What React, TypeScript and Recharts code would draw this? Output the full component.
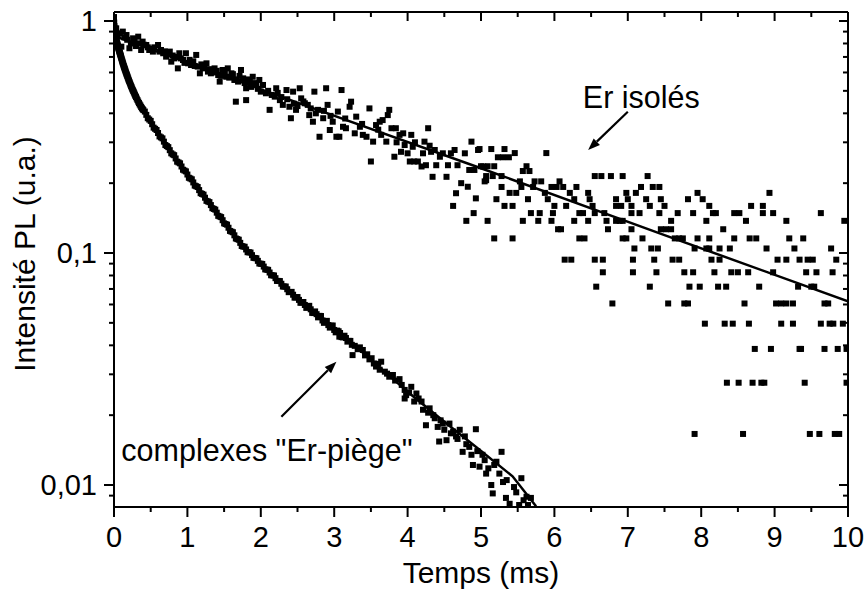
import React from 'react';
import { ComposedChart, Scatter, Line, XAxis, YAxis, ReferenceLine, Label } from 'recharts';

const FONT = '"Liberation Sans", Arial, Helvetica, sans-serif';

// ---------- axes ----------
const xDomain: [number, number] = [0, 10];
const yDomain: [number, number] = [0.00804, 1.0934];
const xTicks = [0, 0.5, 1, 1.5, 2, 2.5, 3, 3.5, 4, 4.5, 5, 5.5, 6, 6.5, 7, 7.5, 8, 8.5, 9, 9.5, 10];
const yTicks = [0.009, 0.01, 0.02, 0.03, 0.04, 0.05, 0.06, 0.07, 0.08, 0.09, 0.1, 0.2, 0.3, 0.4, 0.5, 0.6, 0.7, 0.8, 0.9, 1];
const yMajorLabels: Record<string, string> = { '0.01': '0,01', '0.1': '0,1', '1': '1' };
const xTitle = 'Temps (ms)';
const yTitle = 'Intensité PL (u.a.)';

// ---------- "Er isolés" data (t in ms, intensity) ----------
const isolatedEarly: [number, number][] = [
  [0.01, 0.9], [0.03, 0.93], [0.05, 0.87], [0.08, 0.885], [0.1, 0.775], [0.12, 0.9], [0.14, 0.85], [0.17, 0.87],
  [0.18, 0.83], [0.21, 0.763], [0.23, 0.8], [0.26, 0.842], [0.28, 0.82], [0.3, 0.78], [0.33, 0.856], [0.35, 0.801],
  [0.37, 0.75], [0.39, 0.815], [0.41, 0.79], [0.44, 0.788], [0.46, 0.77], [0.48, 0.75], [0.51, 0.76], [0.53, 0.738],
  [0.55, 0.77], [0.6, 0.788], [0.62, 0.738], [0.64, 0.75], [0.67, 0.726], [0.69, 0.74], [0.71, 0.702], [0.73, 0.72],
  [0.76, 0.738], [0.78, 0.668], [0.8, 0.71], [0.82, 0.69], [0.85, 0.7], [0.87, 0.625], [0.89, 0.726], [0.91, 0.69],
  [0.94, 0.679], [0.96, 0.66], [0.98, 0.726], [1.01, 0.657], [1.03, 0.68], [1.05, 0.646], [1.08, 0.67], [1.1, 0.64],
  [1.12, 0.714], [1.14, 0.636], [1.17, 0.595], [1.19, 0.65], [1.21, 0.625], [1.23, 0.63], [1.26, 0.657], [1.28, 0.605],
  [1.3, 0.62], [1.32, 0.595], [1.35, 0.6], [1.37, 0.625], [1.4, 0.61], [1.42, 0.585], [1.44, 0.548], [1.46, 0.58],
  [1.48, 0.615], [1.51, 0.6], [1.53, 0.575], [1.55, 0.625], [1.57, 0.57], [1.6, 0.595], [1.62, 0.59], [1.64, 0.557],
  [1.66, 0.449], [1.67, 0.56], [1.69, 0.548], [1.71, 0.58], [1.73, 0.615], [1.76, 0.566], [1.78, 0.54], [1.8, 0.513],
  [1.8, 0.456], [1.82, 0.56], [1.85, 0.548], [1.87, 0.52], [1.89, 0.575], [1.92, 0.54], [1.94, 0.53], [1.96, 0.51],
  [1.98, 0.557], [2.0, 0.496], [2.03, 0.53], [2.07, 0.488], [2.1, 0.5], [2.12, 0.414], [2.15, 0.48], [2.19, 0.472],
  [2.21, 0.513], [2.23, 0.49], [2.26, 0.456], [2.28, 0.47], [2.3, 0.435], [2.35, 0.504], [2.36, 0.46], [2.39, 0.427],
  [2.41, 0.381], [2.44, 0.496], [2.45, 0.44], [2.48, 0.414], [2.5, 0.43], [2.53, 0.513], [2.55, 0.464], [2.58, 0.45],
  [2.6, 0.442], [2.64, 0.435], [2.66, 0.393], [2.68, 0.42], [2.71, 0.368], [2.73, 0.496], [2.75, 0.4], [2.78, 0.414],
  [2.8, 0.317], [2.85, 0.381], [2.86, 0.41], [2.89, 0.513], [2.91, 0.435], [2.94, 0.339], [2.95, 0.39], [2.98, 0.368],
  [3.03, 0.317], [3.05, 0.407], [3.07, 0.317], [3.1, 0.504], [3.12, 0.35], [3.15, 0.38], [3.16, 0.345], [3.21, 0.427],
  [3.23, 0.449], [3.28, 0.328], [3.3, 0.387], [3.35, 0.35], [3.38, 0.36], [3.39, 0.323], [3.44, 0.317], [3.48, 0.42],
  [3.5, 0.248], [3.53, 0.302], [3.57, 0.356], [3.6, 0.34], [3.62, 0.368], [3.64, 0.323], [3.66, 0.374], [3.71, 0.302],
  [3.73, 0.393], [3.75, 0.414], [3.78, 0.345], [3.82, 0.26], [3.84, 0.345], [3.85, 0.3], [3.89, 0.323], [3.91, 0.273],
  [3.94, 0.328], [3.96, 0.292], [4.0, 0.269], [4.03, 0.248], [4.05, 0.323], [4.07, 0.287], [4.09, 0.248], [4.1, 0.3],
  [4.14, 0.248], [4.19, 0.236], [4.21, 0.269], [4.23, 0.302], [4.25, 0.239], [4.28, 0.345], [4.3, 0.29], [4.32, 0.273],
  [4.34, 0.213], [4.37, 0.278], [4.39, 0.239], [4.44, 0.26], [4.48, 0.269], [4.53, 0.213], [4.55, 0.239], [4.59, 0.269],
  [4.62, 0.1596], [4.64, 0.278], [4.66, 0.181], [4.68, 0.239], [4.73, 0.2], [4.78, 0.269], [4.8, 0.1376], [4.82, 0.193],
  [4.84, 0.228], [4.87, 0.302], [4.9, 0.1486], [4.91, 0.228], [4.93, 0.172], [4.96, 0.278], [5.03, 0.236], [5.07, 0.206],
];

// late part: photon-count levels and the times at which points sit on them
const isolatedLevels: { v: number; t: number[] }[] = [
  { v: 0.2806, t: [4.98, 5.14, 5.32] },
  { v: 0.2696, t: [5.46, 5.89] },
  { v: 0.2586, t: [5.23, 5.3, 5.38] },
  { v: 0.2366, t: [5.0, 5.09, 5.18, 5.62] },
  { v: 0.2256, t: [5.57, 5.66] },
  { v: 0.2146, t: [5.07, 5.16, 5.28, 6.55, 6.64, 6.77, 6.93, 7.27] },
  { v: 0.2036, t: [5.05, 5.53, 5.73, 5.82, 6.07] },
  { v: 0.1926, t: [5.28, 5.55, 5.71, 5.96, 6.03, 6.12, 6.3, 7.18, 7.34, 7.43] },
  { v: 0.1816, t: [5.39, 5.48, 5.87, 6.21, 6.46, 6.98, 7.11, 7.95, 8.93] },
  { v: 0.1706, t: [5.21, 5.64, 5.91, 6.27, 6.48, 6.84, 7.0, 7.25, 7.45, 7.82, 8.02] },
  { v: 0.1596, t: [5.32, 5.43, 6.0, 6.16, 6.52, 6.84, 6.91, 7.05, 7.3, 7.5, 8.11, 8.68, 8.84] },
  { v: 0.1486, t: [5.68, 5.8, 5.98, 6.34, 6.39, 6.55, 6.68, 7.05, 7.16, 7.43, 7.68, 7.89, 8.16, 8.2, 8.45, 8.52, 8.84, 8.98, 9.63] },
  { v: 0.1376, t: [5.09, 5.57, 5.78, 5.96, 6.27, 6.46, 6.71, 6.84, 6.89, 6.93, 7.59, 8.07, 8.61, 9.16, 9.95] },
  { v: 0.1266, t: [6.05, 6.09, 6.73, 7.05, 7.45, 7.52, 7.59, 8.3] },
  { v: 0.1156, t: [5.18, 5.43, 6.34, 6.41, 6.93, 6.98, 7.2, 7.64, 7.7, 7.75, 7.95, 8.11, 8.45, 8.66, 8.75, 9.2, 9.39] },
  { v: 0.1046, t: [7.09, 7.32, 7.41, 7.91, 8.07, 8.11, 8.25, 8.39, 8.89, 9.27, 9.77] },
  { v: 0.0936, t: [6.14, 6.23, 6.55, 6.66, 7.07, 7.36, 7.61, 7.7, 8.14, 8.25, 9.04, 9.16, 9.34, 9.45, 9.52, 9.84] },
  { v: 0.0826, t: [6.66, 7.07, 7.39, 7.77, 7.89, 8.18, 8.41, 8.5, 8.64, 8.98, 9.43, 9.57, 9.79] },
  { v: 0.0716, t: [6.57, 7.3, 7.84, 7.98, 8.23, 8.34, 8.79, 9.32, 9.5, 9.54] },
  { v: 0.0606, t: [6.79, 7.55, 7.77, 7.82, 8.59, 9.02, 9.09, 9.16, 9.25, 9.68, 9.73] },
  { v: 0.0496, t: [8.05, 8.32, 8.43, 8.65, 9.09, 9.25, 9.63, 9.75, 9.8, 9.93] },
  { v: 0.0386, t: [8.73, 8.95, 9.34, 9.36, 9.68, 9.86, 9.98] },
  { v: 0.0276, t: [8.35, 8.51, 8.7, 8.82, 8.86, 9.41, 9.98] },
  { v: 0.0166, t: [7.91, 8.57, 9.48, 9.61, 9.82, 9.88] },
];

const isolatedFit: [number, number][] = [[0, 0.862], [2.5, 0.445], [5, 0.232], [7.5, 0.1195], [10, 0.0619]];

// ---------- complexes "Er-piège" data ----------
const trapDense: [number, number][] = [
  [0, 1.04], [0.003, 0.985], [0.006, 0.95], [0.01, 0.915], [0.014, 0.89], [0.018, 0.873], [0.022, 0.858], [0.027, 0.843],
  [0.032, 0.829], [0.037, 0.816], [0.043, 0.802], [0.05, 0.786], [0.057, 0.771], [0.064, 0.757], [0.072, 0.742], [0.08, 0.728],
  [0.088, 0.714], [0.096, 0.7], [0.105, 0.684], [0.114, 0.669], [0.123, 0.655], [0.133, 0.64], [0.143, 0.626], [0.153, 0.613],
  [0.164, 0.599], [0.175, 0.586], [0.187, 0.572], [0.199, 0.558], [0.212, 0.545], [0.226, 0.531], [0.24, 0.518], [0.255, 0.505],
  [0.27, 0.493], [0.285, 0.481], [0.3, 0.47], [0.32, 0.456], [0.34, 0.443], [0.36, 0.432], [0.38, 0.421], [0.4, 0.413],
  [0.44, 0.394], [0.48, 0.376], [0.52, 0.359], [0.56, 0.343], [0.6, 0.329], [0.64, 0.315], [0.68, 0.302], [0.72, 0.289],
  [0.76, 0.2775], [0.8, 0.266], [0.84, 0.2556], [0.88, 0.2456], [0.92, 0.236], [0.96, 0.2267], [1.0, 0.2179], [1.04, 0.2095],
  [1.08, 0.2015], [1.12, 0.194], [1.16, 0.1867], [1.2, 0.1798], [1.24, 0.1731], [1.28, 0.1668], [1.32, 0.1609], [1.36, 0.1549],
  [1.4, 0.1492], [1.44, 0.1437], [1.48, 0.1385], [1.52, 0.1333], [1.56, 0.1285], [1.6, 0.1237], [1.64, 0.1192], [1.68, 0.1148],
  [1.72, 0.1106], [1.76, 0.1066], [1.8, 0.1036], [1.84, 0.1007], [1.88, 0.0979], [1.92, 0.0951], [1.96, 0.0925], [2.0, 0.0899],
  [2.04, 0.0874], [2.08, 0.0848], [2.12, 0.0824], [2.16, 0.0801], [2.2, 0.0779], [2.24, 0.0758], [2.28, 0.0737], [2.32, 0.0717],
  [2.36, 0.0698], [2.4, 0.0679], [2.44, 0.0661], [2.48, 0.0644], [2.52, 0.0628], [2.56, 0.0612], [2.6, 0.0597], [2.64, 0.0588],
  [2.68, 0.0572], [2.72, 0.0551], [2.76, 0.0545], [2.8, 0.0536], [2.84, 0.0512], [2.88, 0.0509], [2.92, 0.0489], [2.96, 0.0486],
  [3.0, 0.0466], [3.04, 0.0463], [3.07, 0.0436], [3.08, 0.0452], [3.12, 0.0433], [3.16, 0.043],
];
// second pass of points sitting between the ones above (slight scatter)
const trapDenseB: [number, number][] = [
  [0.008, 0.93], [0.02, 0.866], [0.03, 0.836], [0.04, 0.809], [0.046, 0.795], [0.053, 0.779], [0.06, 0.764], [0.068, 0.75],
  [0.076, 0.735], [0.084, 0.721], [0.092, 0.707], [0.1, 0.692], [0.11, 0.676], [0.118, 0.662], [0.128, 0.648], [0.138, 0.633],
  [0.148, 0.62], [0.158, 0.606], [0.17, 0.592], [0.181, 0.579], [0.193, 0.565], [0.205, 0.552], [0.219, 0.538], [0.233, 0.524],
  [0.247, 0.511], [0.262, 0.499], [0.277, 0.487], [0.292, 0.475], [0.31, 0.463], [0.33, 0.449], [0.35, 0.437], [0.37, 0.426],
  [0.39, 0.417], [0.42, 0.407], [0.46, 0.381], [0.5, 0.371], [0.54, 0.347], [0.58, 0.339], [0.62, 0.318], [0.66, 0.312],
  [0.7, 0.292], [0.74, 0.286], [0.78, 0.269], [0.82, 0.264], [0.86, 0.2475], [0.9, 0.2435], [0.94, 0.2285], [0.98, 0.2248],
  [1.02, 0.211], [1.06, 0.2078], [1.1, 0.1952], [1.14, 0.1925], [1.18, 0.181], [1.22, 0.1785], [1.26, 0.1678], [1.3, 0.1657],
  [1.34, 0.156], [1.38, 0.1538], [1.42, 0.1446], [1.46, 0.1428], [1.5, 0.1342], [1.54, 0.1325], [1.58, 0.1245], [1.62, 0.1229],
  [1.66, 0.1155], [1.7, 0.1141], [1.74, 0.1072], [1.78, 0.1064], [1.82, 0.1008], [1.86, 0.1005], [1.9, 0.0953], [1.94, 0.0949],
  [1.98, 0.0901], [2.02, 0.0897], [2.06, 0.085], [2.1, 0.0846], [2.14, 0.0802], [2.18, 0.08], [2.22, 0.0758], [2.26, 0.0757],
  [2.3, 0.0717], [2.34, 0.0717], [2.38, 0.0678], [2.42, 0.068], [2.46, 0.0642], [2.5, 0.0646], [2.54, 0.061], [2.58, 0.0615],
  [2.62, 0.058], [2.66, 0.0592], [2.7, 0.0552], [2.74, 0.056], [2.78, 0.0528], [2.82, 0.0535], [2.86, 0.05], [2.9, 0.051],
  [2.94, 0.0477], [2.98, 0.0487], [3.02, 0.0455], [3.06, 0.046], [3.1, 0.0434], [3.14, 0.044], [3.18, 0.0415], [3.22, 0.0418],
];
const trapTail: [number, number][] = [
  [3.2, 0.0418], [3.24, 0.0402], [3.25, 0.0363], [3.28, 0.0398], [3.32, 0.0385], [3.35, 0.0392], [3.39, 0.0382], [3.42, 0.0362],
  [3.45, 0.0366], [3.48, 0.0348], [3.51, 0.0352], [3.54, 0.0334], [3.57, 0.0324], [3.6, 0.0333], [3.62, 0.0314], [3.64, 0.034],
  [3.69, 0.0308], [3.72, 0.0302], [3.75, 0.0293], [3.8, 0.0298], [3.83, 0.0282], [3.89, 0.0286], [3.92, 0.027], [3.96, 0.0257],
  [3.96, 0.0236], [3.98, 0.0244], [4.02, 0.025], [4.05, 0.0265], [4.09, 0.0229], [4.12, 0.0248], [4.15, 0.0236], [4.19, 0.0229],
  [4.21, 0.0211], [4.25, 0.0181], [4.28, 0.0205], [4.3, 0.0214], [4.35, 0.02], [4.37, 0.0194], [4.41, 0.0178], [4.43, 0.0154],
  [4.45, 0.019], [4.48, 0.0184], [4.5, 0.0173], [4.53, 0.0156], [4.57, 0.0184], [4.59, 0.0167], [4.62, 0.017], [4.66, 0.0162],
  [4.68, 0.0158], [4.71, 0.0173], [4.75, 0.0139], [4.78, 0.0162], [4.8, 0.015], [4.84, 0.0146], [4.87, 0.0135], [4.89, 0.0122],
  [4.93, 0.0174], [4.95, 0.014], [4.98, 0.012], [5.02, 0.0135], [5.05, 0.0128], [5.07, 0.0112], [5.1, 0.0118], [5.14, 0.01],
  [5.16, 0.0092], [5.18, 0.0122], [5.21, 0.0126], [5.25, 0.0112], [5.28, 0.0139], [5.3, 0.0103], [5.34, 0.0088], [5.35, 0.0105],
  [5.39, 0.0083], [5.45, 0.0098], [5.48, 0.0093], [5.52, 0.0082], [5.55, 0.0107], [5.58, 0.0086], [5.62, 0.0089], [5.64, 0.0082],
  [5.68, 0.0088],
];
const trapFit: [number, number][] = [
  [0, 1.0], [0.01, 0.92], [0.03, 0.845], [0.06, 0.765], [0.1, 0.69], [0.15, 0.618], [0.21, 0.55], [0.3, 0.474], [0.4, 0.415],
  [0.52, 0.36], [0.62, 0.32], [0.76, 0.277], [0.85, 0.252], [1.0, 0.217], [1.15, 0.188], [1.3, 0.163], [1.5, 0.136],
  [1.75, 0.108], [2.0, 0.0895], [2.3, 0.0722], [2.57, 0.0607], [2.85, 0.0512], [3.12, 0.0436], [3.4, 0.037], [3.7, 0.0305],
  [4.07, 0.0242], [4.53, 0.0184], [4.98, 0.0142], [5.43, 0.0109], [5.75, 0.0081],
];

// annotation arrows [tail, head] in data coordinates
const isolatedArrow = [{ x: 7.0, y: 0.4066 }, { x: 6.46, y: 0.278 }];
const trapArrow = [{ x: 2.28, y: 0.0197 }, { x: 3.03, y: 0.034 }];
const isolatedLabel = 'Er isolés';
const trapLabel = 'complexes "Er-piège"';

// ---------- derived tables ----------
const toPts = (a: [number, number][]) => a.map(([x, y]) => ({ x, y }));
const isolatedPts = [
  ...toPts(isolatedEarly),
  ...isolatedLevels.flatMap((row) => row.t.map((x) => ({ x, y: row.v }))),
];
const trapPts = [...toPts(trapDense), ...toPts(trapDenseB), ...toPts(trapTail)];
const isolatedFitPts = toPts(isolatedFit);
const trapFitPts = toPts(trapFit);

// ---------- renderers ----------
const Square = (props: any) => {
  const { cx, cy } = props;
  if (cx == null || cy == null || isNaN(cx) || isNaN(cy)) return <g />;
  return <rect x={cx - 3} y={cy - 3} width={6} height={6} fill="#000" />;
};

const isMajorX = (v: number) => Math.abs(v - Math.round(v)) < 1e-9;

const BottomTick = (props: any) => {
  const { x, y, payload } = props;
  const v = payload.value;
  const major = isMajorX(v);
  return (
    <g>
      <line x1={x} y1={y} x2={x} y2={y + (major ? 10 : 5)} stroke="#000" strokeWidth={2} />
      {major && (
        <text x={x} y={y + 40} textAnchor="middle" fontSize={29} fontFamily={FONT} fill="#000">
          {String(v)}
        </text>
      )}
    </g>
  );
};

const TopTick = (props: any) => {
  const { x, y, payload } = props;
  const major = isMajorX(payload.value);
  return <line x1={x} y1={y} x2={x} y2={y + (major ? 9 : 5)} stroke="#000" strokeWidth={2} />;
};

const LeftTick = (props: any) => {
  const { x, y, payload } = props;
  const label = yMajorLabels[String(payload.value)];
  return (
    <g>
      <line x1={x} y1={y} x2={x - (label ? 10 : 5)} y2={y} stroke="#000" strokeWidth={2} />
      {label && (
        <text x={x - 17} y={y + 10} textAnchor="end" fontSize={29} fontFamily={FONT} fill="#000">
          {label}
        </text>
      )}
    </g>
  );
};

const RightTick = (props: any) => {
  const { x, y, payload } = props;
  const major = !!yMajorLabels[String(payload.value)];
  return <line x1={x} y1={y} x2={x - (major ? 9 : 5)} y2={y} stroke="#000" strokeWidth={2} />;
};

const makeArrow = (text: string, dx: number, dy: number) => (props: any) => {
  const { x1, y1, x2, y2 } = props;
  if ([x1, y1, x2, y2].some((v) => v == null || isNaN(v))) return <g />;
  const ang = Math.atan2(y2 - y1, x2 - x1);
  const L = 12;
  const W = 4.5;
  const bx = x2 - L * Math.cos(ang);
  const by = y2 - L * Math.sin(ang);
  const px = -Math.sin(ang) * W;
  const py = Math.cos(ang) * W;
  return (
    <g>
      <line x1={x1} y1={y1} x2={bx} y2={by} stroke="#000" strokeWidth={2.2} />
      <polygon points={`${x2},${y2} ${bx + px},${by + py} ${bx - px},${by - py}`} fill="#000" />
      <text x={x1 + dx} y={y1 + dy} fontSize={30.5} fontFamily={FONT} fill="#000">
        {text}
      </text>
    </g>
  );
};

const XTitle = (props: any) => {
  const vb = props.viewBox || { x: 114, y: 507, width: 734, height: 87 };
  return (
    <text x={vb.x + vb.width / 2} y={vb.y + 76} textAnchor="middle" fontSize={30} fontFamily={FONT} fill="#000">
      {xTitle}
    </text>
  );
};

const YTitle = (props: any) => {
  const vb = props.viewBox || { x: 0, y: 12, width: 114, height: 495 };
  const cx = vb.x + 35;
  const cy = vb.y + 242;
  return (
    <text
      x={cx}
      y={cy}
      transform={`rotate(-90, ${cx}, ${cy})`}
      textAnchor="middle"
      fontSize={30}
      fontFamily={FONT}
      fill="#000"
    >
      {yTitle}
    </text>
  );
};

const axisLine = { stroke: '#000', strokeWidth: 2 };

export default function App() {
  return (
    <div style={{ position: 'absolute', left: 0, top: 0, width: 868, height: 594, background: '#fff' }}>
      <ComposedChart width={868} height={594} margin={{ top: 0, right: 0, bottom: 0, left: 0 }}>
        <XAxis
          xAxisId="bottom"
          type="number"
          dataKey="x"
          domain={xDomain}
          allowDataOverflow
          ticks={xTicks}
          interval={0}
          height={87}
          tickSize={0}
          tickMargin={0}
          tickLine={false}
          axisLine={axisLine}
          tick={<BottomTick />}
        >
          <Label content={<XTitle />} />
        </XAxis>
        <XAxis
          xAxisId="top"
          orientation="top"
          type="number"
          dataKey="x"
          domain={xDomain}
          allowDataOverflow
          ticks={xTicks}
          interval={0}
          height={12}
          tickSize={0}
          tickMargin={0}
          tickLine={false}
          axisLine={axisLine}
          tick={<TopTick />}
        />
        <YAxis
          yAxisId="left"
          type="number"
          dataKey="y"
          scale="log"
          domain={yDomain}
          allowDataOverflow
          ticks={yTicks}
          interval={0}
          width={114}
          tickSize={0}
          tickMargin={0}
          tickLine={false}
          axisLine={axisLine}
          tick={<LeftTick />}
        >
          <Label content={<YTitle />} />
        </YAxis>
        <YAxis
          yAxisId="right"
          orientation="right"
          type="number"
          dataKey="y"
          scale="log"
          domain={yDomain}
          allowDataOverflow
          ticks={yTicks}
          interval={0}
          width={20}
          tickSize={0}
          tickMargin={0}
          tickLine={false}
          axisLine={axisLine}
          tick={<RightTick />}
        />
        <Scatter
          xAxisId="bottom"
          yAxisId="left"
          data={isolatedPts}
          shape={Square}
          isAnimationActive={false}
        />
        <Scatter
          xAxisId="bottom"
          yAxisId="left"
          data={trapPts}
          shape={Square}
          isAnimationActive={false}
        />
        <Line
          xAxisId="bottom"
          yAxisId="left"
          data={isolatedFitPts}
          dataKey="y"
          type="linear"
          stroke="#000"
          strokeWidth={2.5}
          dot={false}
          activeDot={false}
          isAnimationActive={false}
        />
        <Line
          xAxisId="bottom"
          yAxisId="left"
          data={trapFitPts}
          dataKey="y"
          type="linear"
          stroke="#000"
          strokeWidth={2.5}
          dot={false}
          activeDot={false}
          isAnimationActive={false}
        />
        <ReferenceLine
          xAxisId="bottom"
          yAxisId="left"
          segment={isolatedArrow}
          shape={makeArrow(isolatedLabel, -45, -3.5)}
          ifOverflow="visible"
        />
        <ReferenceLine
          xAxisId="bottom"
          yAxisId="left"
          segment={trapArrow}
          shape={makeArrow(trapLabel, -160, 44)}
          ifOverflow="visible"
        />
      </ComposedChart>
    </div>
  );
}
